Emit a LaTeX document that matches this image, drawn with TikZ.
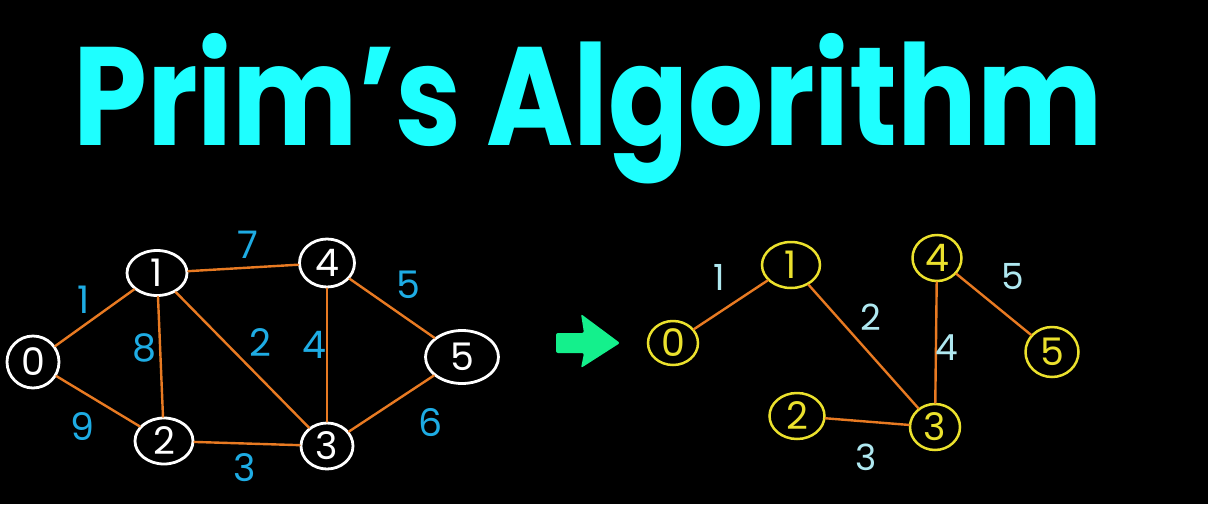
\documentclass[tikz,border=0pt]{standalone}
\usepackage{fontspec}
\usetikzlibrary{shapes.geometric}
\newfontfamily\titlefont{Poppins}
\newfontfamily\digitfont{Poppins}
\definecolor{titlecyan}{RGB}{30,255,255}
\definecolor{edgeorange}{RGB}{232,122,34}
\definecolor{lblblue}{RGB}{30,172,228}
\definecolor{lbllight}{RGB}{175,232,240}
\definecolor{nodeyellow}{RGB}{235,225,45}
\definecolor{arrowgreen}{RGB}{20,240,140}
\tikzset{
  gnode/.style={ellipse, draw=white, line width=2.8pt, text=white, inner sep=0pt, font=\digitfont\fontsize{38}{38}\selectfont},
  ynode/.style={ellipse, draw=nodeyellow, line width=2.5pt, text=nodeyellow, inner sep=0pt, font=\digitfont\fontsize{38}{38}\selectfont},
  gedge/.style={draw=edgeorange, line width=2.4pt, line cap=round},
  wlbl/.style={text=lblblue, font=\digitfont\fontsize{38}{38}\selectfont, inner sep=0pt},
  ylbl/.style={text=lbllight, font=\digitfont\fontsize{36}{36}\selectfont, inner sep=0pt},
}
\begin{document}
\begin{tikzpicture}[x=1pt,y=-1pt]
\fill[black] (0,0) rectangle (1208,504);
\useasboundingbox (0,0) rectangle (1208,504);
% title
\node[text=titlecyan, inner sep=0pt, anchor=base] (title) at (588,145) {\scalebox{0.845}[1.0]{\titlefont\bfseries\fontsize{140}{140}\selectfont Prim’s Algorithm}};
% left graph
\node[gnode, minimum width=52pt, minimum height=52pt] (L0) at (33,362) {0};
\node[gnode, minimum width=60pt, minimum height=45pt] (L1) at (157,273) {1};
\node[gnode, minimum width=55pt, minimum height=48pt] (L4) at (327,263) {4};
\node[gnode, minimum width=73pt, minimum height=53pt] (L5) at (462,357) {5};
\node[gnode, minimum width=58pt, minimum height=46pt] (L2) at (164,441) {2};
\node[gnode, minimum width=52pt, minimum height=46pt] (L3) at (327,446) {3};
\draw[gedge] (L0) -- (L1);
\draw[gedge] (L0) -- (L2);
\draw[gedge] (L1) -- (L2);
\draw[gedge] (L1) -- (L4);
\draw[gedge] (L1) -- (L3);
\draw[gedge] (L4) -- (L3);
\draw[gedge] (L4) -- (L5);
\draw[gedge] (L2) -- (L3);
\draw[gedge] (L3) -- (L5);
\node[wlbl] (l01) at (84,300) {1};
\node[wlbl] (l14) at (248,245) {7};
\node[wlbl] (l45) at (408,285) {5};
\node[wlbl] (l12) at (144,348) {8};
\node[wlbl] (l13) at (260,343) {2};
\node[wlbl] (l43) at (314,345) {4};
\node[wlbl] (l02) at (82,427) {9};
\node[wlbl] (l23) at (245,468) {3};
\node[wlbl] (l35) at (431,423) {6};
% arrow
\fill[arrowgreen, rounded corners=2pt] (556,333) -- (584,333) -- (581,314) -- (620,343) -- (581,368) -- (584,353) -- (556,353) -- cycle;
% right graph
\node[ynode, minimum width=50pt, minimum height=44pt] (R0) at (673,343) {0};
\node[ynode, minimum width=58pt, minimum height=46pt] (R1) at (791,265) {1};
\node[ynode, minimum width=49pt, minimum height=46pt] (R4) at (937,258) {4};
\node[ynode, minimum width=53pt, minimum height=50pt] (R5) at (1052,352) {5};
\node[ynode, minimum width=55pt, minimum height=46pt] (R2) at (797,416) {2};
\node[ynode, minimum width=50pt, minimum height=46pt] (R3) at (935,427) {3};
\draw[gedge] (R0) -- (R1);
\draw[gedge] (R1) -- (R3);
\draw[gedge] (R4) -- (R3);
\draw[gedge] (R4) -- (R5);
\draw[gedge] (R2) -- (R3);
\node[ylbl] (r01) at (719,277) {1};
\node[ylbl] (r13) at (871,317) {2};
\node[ylbl] (r43) at (947,348) {4};
\node[ylbl] (r45) at (1013,276) {5};
\node[ylbl] (r23) at (866,457) {3};
\end{tikzpicture}
\end{document}
